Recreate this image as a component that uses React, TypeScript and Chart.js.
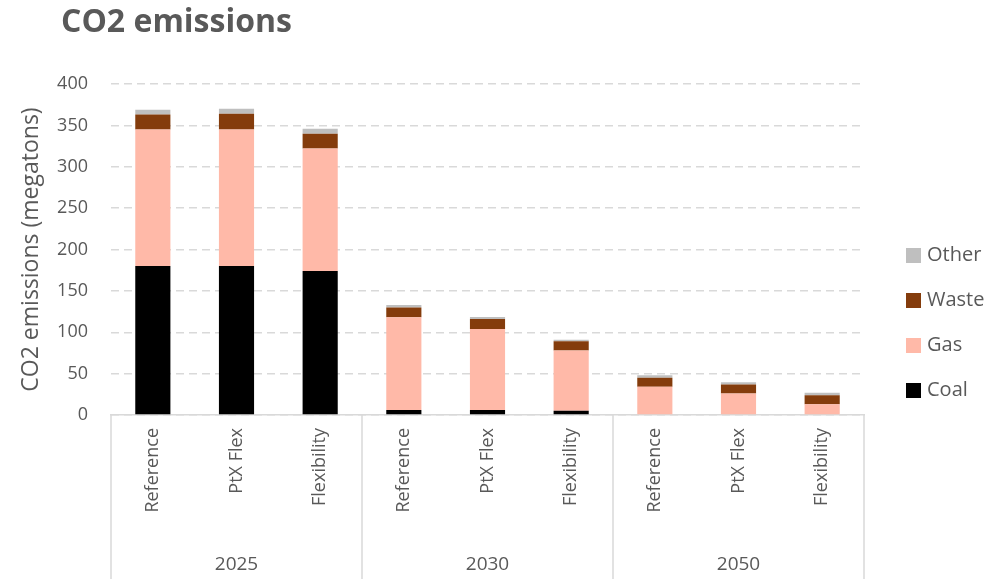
import React, { useEffect, useRef } from "react";
import { Chart, registerables } from "chart.js";

Chart.register(...registerables);

const scenarios = ["Reference", "PtX Flex", "Flexibility", "Reference", "PtX Flex", "Flexibility", "Reference", "PtX Flex", "Flexibility"];
const years = ["2025", "2030", "2050"];
const coal = [180, 180, 174, 6, 6, 5, 0, 0, 0];
const gas = [165, 165, 148, 112, 98, 73, 34, 26, 13];
const waste = [18, 19, 18, 12, 12, 11, 11, 11, 11];
const other = [6, 6, 6, 3, 2.5, 2, 3, 2.5, 3];
const yTicks = [0, 50, 100, 150, 200, 250, 300, 350, 400];

const FONT = '"Open Sans", sans-serif';
const TEXT = "#595959";

export default function App() {
  const ref = useRef<HTMLCanvasElement | null>(null);
  useEffect(() => {
    document.body.style.margin = "0";
    const canvas = ref.current!;
    const overlay = {
      id: "overlay",
      afterDraw(chart: any) {
        const ctx = chart.ctx;
        const area = chart.chartArea;
        const H = chart.height;
        ctx.save();
        // title
        ctx.fillStyle = TEXT;
        ctx.font = `bold 32px ${FONT}`;
        ctx.textBaseline = "middle";
        ctx.textAlign = "left";
        ctx.fillText("CO2 emissions", 61, 23);
        // group separators & year labels
        const n = years.length;
        const w = (area.right - area.left) / n;
        ctx.strokeStyle = "#d9d9d9";
        ctx.lineWidth = 1.5;
        for (let g = 0; g <= n; g++) {
          const x = area.left + g * w;
          ctx.beginPath();
          ctx.moveTo(x, area.bottom);
          ctx.lineTo(x, H);
          ctx.stroke();
        }
        ctx.font = `19px ${FONT}`;
        ctx.textAlign = "center";
        years.forEach((y, g) => {
          ctx.fillText(y, area.left + (g + 0.5) * w, 565);
        });
        // legend
        const ds = chart.data.datasets.slice().reverse();
        ctx.font = `20px ${FONT}`;
        ctx.textAlign = "left";
        ds.forEach((d: any, i: number) => {
          const cy = 255 + i * 45;
          ctx.fillStyle = d.backgroundColor;
          ctx.fillRect(906, cy - 7, 15, 15);
          ctx.fillStyle = TEXT;
          ctx.fillText(d.label, 927, cy);
        });
        ctx.restore();
      },
    };
    const chart = new Chart(canvas, {
      type: "bar",
      data: {
        labels: scenarios,
        datasets: [
          { label: "Coal", data: coal, backgroundColor: "#000000" },
          { label: "Gas", data: gas, backgroundColor: "#FFB9A8" },
          { label: "Waste", data: waste, backgroundColor: "#843C0C" },
          { label: "Other", data: other, backgroundColor: "#BFBFBF" },
        ],
      },
      options: {
        responsive: false,
        animation: false,
        layout: { padding: { top: 84, right: 143, left: 0, bottom: 0 } },
        datasets: { bar: { categoryPercentage: 1, barPercentage: 0.42, borderWidth: 0 } },
        plugins: { legend: { display: false }, title: { display: false }, tooltip: { enabled: false } },
        scales: {
          x: {
            stacked: true,
            grid: { display: false, drawTicks: false },
            border: { display: true, color: "#d9d9d9", width: 1.5 },
            ticks: { color: TEXT, font: { family: FONT, size: 18 }, minRotation: 90, maxRotation: 90, padding: 13, autoSkip: false },
            afterFit(scale: any) { scale.height = 164; },
          },
          y: {
            stacked: true,
            min: 0,
            max: 400,
            afterBuildTicks(scale: any) { scale.ticks = yTicks.map((v) => ({ value: v })); },
            grid: { color: "#d9d9d9", lineWidth: 1.5, drawTicks: false },
            border: { display: false, dash: [8, 5] },
            ticks: { color: TEXT, font: { family: FONT, size: 18 }, padding: 23 },
            title: { display: true, text: "CO2 emissions (megatons)", color: TEXT, font: { family: FONT, size: 23 }, padding: { top: 18, bottom: 0 } },
            afterFit(scale: any) { scale.width = 111; },
          },
        },
      },
      plugins: [overlay],
    });
    return () => chart.destroy();
  }, []);
  return (
    <div style={{ width: 1007, height: 579 }}>
      <canvas ref={ref} width={1007} height={579} />
    </div>
  );
}
